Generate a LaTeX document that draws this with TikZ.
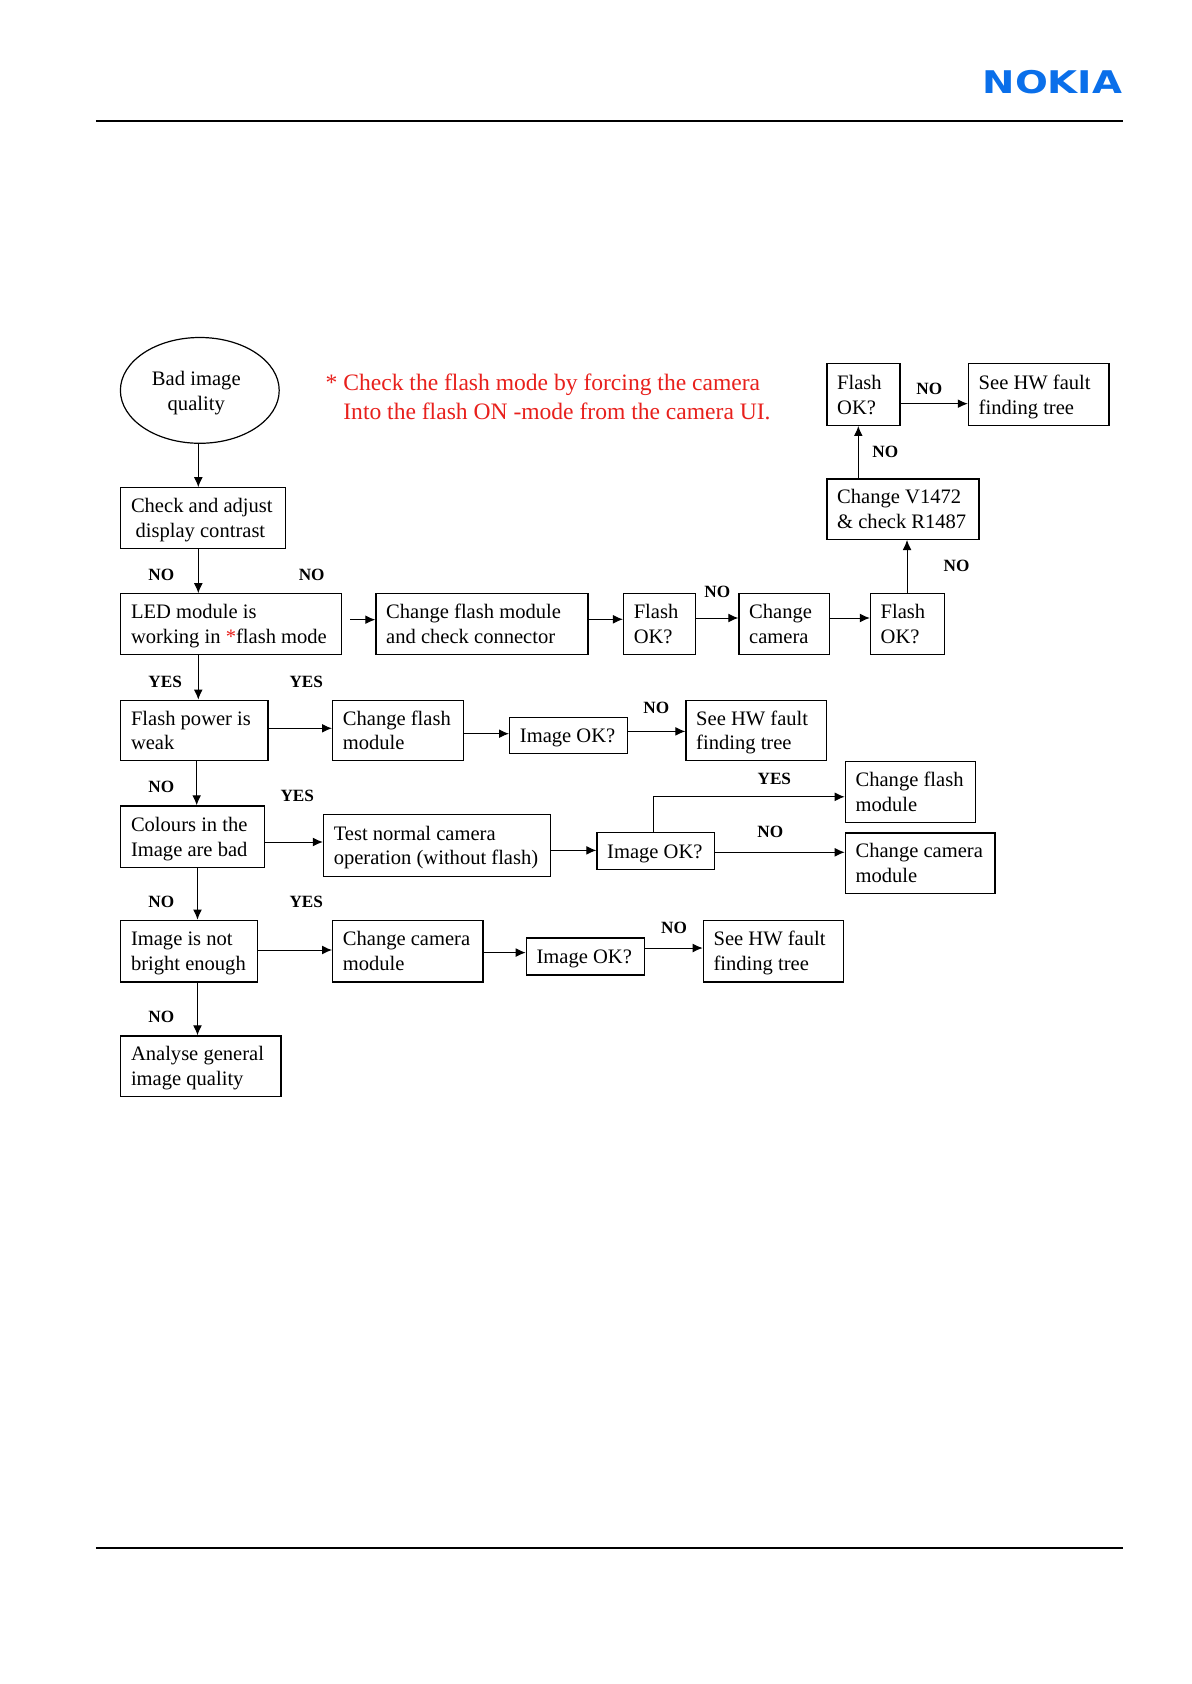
\documentclass[tikz,border=0pt]{standalone}
\usepackage{fontspec}
\usepackage{graphicx}
\setmainfont{Liberation Serif}
\newfontfamily\logofont{DejaVu Sans}
\usetikzlibrary{arrows.meta,shapes.geometric}
\definecolor{nokiablue}{HTML}{0A6FEA}
\definecolor{notered}{HTML}{E8201C}
\tikzset{
  box/.style={draw=black,line width=0.6pt,anchor=north west,inner xsep=5pt,inner ysep=0pt,font=\fontsize{10.28}{12.45}\selectfont},
  arr/.style={draw=black,line width=0.5pt,-{Latex[length=5pt,width=4.4pt]}},
  tag/.style={font=\fontsize{8.6}{10}\selectfont\bfseries,inner sep=0pt,xshift=0.5pt,yshift=-0.3pt},
  rule/.style={draw=black,line width=1pt},
}
\newcommand\bx[6]{%
  \pgfmathsetmacro\bxw{(#4-#2)*0.5}%
  \pgfmathsetmacro\bxh{(#5-#3)*0.5}%
  \pgfmathsetmacro\bxt{(#4-#2)*0.5-10}%
  \node[box,minimum width=\bxw pt,minimum height=\bxh pt] (#1) at (#2,#3) {\makebox[\bxt pt][l]{\hspace*{0.15pt}\raisebox{-1.05pt}[\height][\depth]{\begin{tabular}[c]{@{}l@{}}#6\end{tabular}}}};}
\begin{document}
\begin{tikzpicture}[x=0.5pt,y=-0.5pt]
\useasboundingbox[fill=white] (0,0) rectangle (1191,1684);
\begin{scope}[shift={(-0.7,0)}]
% header and footer
\coordinate (ruleTL) at (96.5,120.9);
\coordinate (ruleTR) at (1123.2,120.9);
\coordinate (ruleBL) at (96.5,1548);
\coordinate (ruleBR) at (1123.2,1548);
\draw[rule] (ruleTL) -- (ruleTR);
\draw[rule] (ruleBL) -- (ruleBR);
\node[anchor=north east,inner sep=0pt,text=nokiablue] (logo) at (1123.4,69.6) {\resizebox{69.8pt}{11.6pt}{\logofont\bfseries NOKIA}};
% note
\node[anchor=west,align=left,inner sep=0pt,text=notered,font=\fontsize{11.78}{14.6}\selectfont] (note) at (326,397) {*~Check the flash mode by forcing the camera\\\phantom{*~}Into the flash ON -mode from the camera UI.};
% start
\node[draw=black,line width=0.6pt,ellipse,minimum width=79.4pt,minimum height=52.9pt,inner sep=0pt,align=center,font=\fontsize{10.3}{12.5}\selectfont] (start) at (200.5,390.4) {\raisebox{-1.5pt}[\height][\depth]{Bad image}\hspace*{3.5pt}\\\raisebox{-1.5pt}[\height][\depth]{quality}\hspace*{3.5pt}};
% boxes
\bx{chk}{120.8}{487.2}{285.6}{548}{Check and adjust\\\hspace*{2.3pt}display contrast}
\bx{okT}{827}{363.2}{900}{424.8}{Flash\\OK?}
\bx{hwT}{968.5}{363.2}{1109}{424.8}{See HW fault\\finding tree}
\bx{vchk}{827}{478.4}{979}{538.8}{Change V1472\\\& check R1487}
\bx{led}{120.8}{593.2}{341.8}{654.1}{LED module is\\working in \textcolor{notered}{*}flash mode}
\bx{chgA}{376}{593.2}{588}{654.1}{Change flash module\\and check connector}
\bx{okA}{623.6}{593.2}{695.8}{654.1}{Flash\\OK?}
\bx{cam}{739}{593.2}{829.5}{654.1}{Change\\camera}
\bx{okB}{870.5}{593.2}{944.2}{654.1}{Flash\\OK?}
\bx{pow}{120.8}{699.6}{268.1}{760.1}{Flash power is\\weak}
\bx{chgB}{332.7}{699.6}{463.4}{760.1}{Change flash\\module}
\bx{imgA}{509.7}{716.5}{627.4}{753.2}{Image OK?}
\bx{hwA}{686}{699.6}{826.4}{760.1}{See HW fault\\finding tree}
\bx{chgC}{845.4}{760.9}{975.3}{822.1}{Change flash\\module}
\bx{camC}{845.4}{832.4}{995}{892.5}{Change camera\\module}
\bx{col}{120.8}{805.3}{264.3}{866.9}{Colours in the\\Image are bad}
\bx{test}{323.6}{814}{550.7}{875.7}{Test normal camera\\operation (without flash)}
\bx{imgB}{597}{832}{714.8}{868.8}{Image OK?}
\bx{dim}{120.8}{919.7}{257.5}{981.3}{Image is not\\bright enough}
\bx{camD}{332.7}{919.7}{483.1}{981.3}{Change camera\\module}
\bx{imgC}{526.4}{937.3}{644.9}{974.4}{Image OK?}
\bx{hwC}{703.4}{919.7}{843.9}{981.3}{See HW fault\\finding tree}
\bx{gen}{120.8}{1035.3}{281}{1095.7}{Analyse general\\image quality}
% guide positions
\coordinate (xA) at (199,0);
\coordinate (xB) at (197.4,0);
\coordinate (xC) at (198.2,0);
\coordinate (xD) at (907.7,0);
\coordinate (xE) at (859,0);
\coordinate (xF) at (654.2,0);
\coordinate (yT) at (0,403.7);
\coordinate (yA) at (0,619.7);
\coordinate (yB) at (0,619.3);
\coordinate (yC) at (0,618);
\coordinate (yD) at (0,728.3);
\coordinate (yE) at (0,733.7);
\coordinate (yF) at (0,731.4);
\coordinate (yG) at (0,796.8);
\coordinate (yH) at (0,842);
\coordinate (yI) at (0,850.4);
\coordinate (yJ) at (0,852.3);
\coordinate (yK) at (0,950);
\coordinate (yL) at (0,952.6);
\coordinate (yM) at (0,948);
\coordinate (ledOut) at (350.7,619.7);
% vertical connectors
\draw[arr] (start.south -| xA) -- (chk.north -| xA);
\draw[arr] (chk.south -| xA) -- (led.north -| xA);
\draw[arr] (led.south -| xA) -- (pow.north -| xA);
\draw[arr] (pow.south -| xB) -- (col.north -| xB);
\draw[arr] (col.south -| xC) -- (dim.north -| xC);
\draw[arr] (dim.south -| xC) -- (gen.north -| xC);
\draw[arr] (okB.north -| xD) -- (vchk.south -| xD);
\draw[arr] (vchk.north -| xE) -- (okT.south -| xE);
% horizontal connectors
\draw[arr] (okT.east |- yT) -- (hwT.west |- yT);
\draw[arr] (ledOut) -- (chgA.west |- yA);
\draw[arr] (chgA.east |- yB) -- (okA.west |- yB);
\draw[arr] (okA.east |- yC) -- (cam.west |- yC);
\draw[arr] (cam.east |- yC) -- (okB.west |- yC);
\draw[arr] (pow.east |- yD) -- (chgB.west |- yD);
\draw[arr] (chgB.east |- yE) -- (imgA.west |- yE);
\draw[arr] (imgA.east |- yF) -- (hwA.west |- yF);
\draw[arr] (col.east |- yH) -- (test.west |- yH);
\draw[arr] (test.east |- yI) -- (imgB.west |- yI);
\draw[arr] (imgB.north -| xF) -- (xF |- yG) -- (chgC.west |- yG);
\draw[arr] (imgB.east |- yJ) -- (camC.west |- yJ);
\draw[arr] (dim.east |- yK) -- (camD.west |- yK);
\draw[arr] (camD.east |- yL) -- (imgC.west |- yL);
\draw[arr] (imgC.east |- yM) -- (hwC.west |- yM);
% labels
\node[tag] (t1) at (161,574) {NO};
\node[tag] (t2) at (311.4,574) {NO};
\node[tag] (t3) at (717,591.3) {NO};
\node[tag] (t4) at (956.3,565.3) {NO};
\node[tag] (t5) at (885,450.8) {NO};
\node[tag] (t6) at (929,388.4) {NO};
\node[tag] (t7) at (164.8,681.3) {YES};
\node[tag] (t8) at (306,681.3) {YES};
\node[tag] (t9) at (656,707) {NO};
\node[tag] (t10) at (161,786.5) {NO};
\node[tag] (t11) at (297,795.3) {YES};
\node[tag] (t12) at (774,778) {YES};
\node[tag] (t13) at (770,831) {NO};
\node[tag] (t14) at (161,901) {NO};
\node[tag] (t15) at (306,901) {YES};
\node[tag] (t16) at (673.8,927.7) {NO};
\node[tag] (t17) at (161,1016) {NO};
\end{scope}
\end{tikzpicture}
\end{document}
